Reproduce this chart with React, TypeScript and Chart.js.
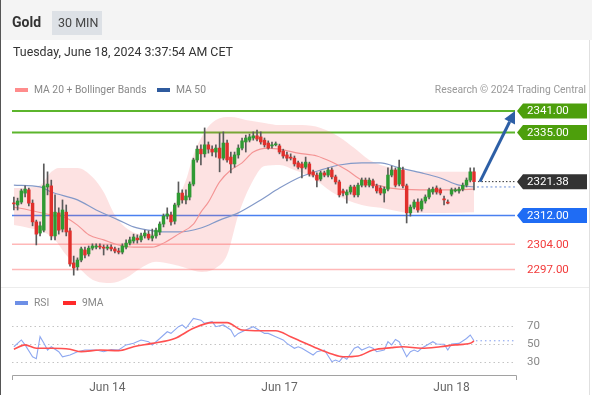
import { useEffect, useRef } from 'react';
import { Chart, registerables } from 'chart.js';

Chart.register(...registerables);

const W = 592;
const H = 395;
const FONT = 'Roboto, "Liberation Sans", Arial, sans-serif';

// ---- data ----
const openP = [
  2315.4, 2314.9, 2315.7, 2318.2, 2319.1, 2315.4, 2310.2, 2307.1, 2307.9, 2319.9,
  2320.2, 2306.3, 2312.7, 2308.2, 2312.9, 2307.7, 2298.8, 2297.7, 2299.6, 2302.4,
  2301.3, 2302.9, 2303.2, 2303.5, 2303.2, 2302.9, 2303.2, 2302.7, 2302.1, 2301.8,
  2303.2, 2304.3, 2304.9, 2305.7, 2305.2, 2306.3, 2306.8, 2305.7, 2306.3, 2307.4,
  2309.6, 2311.8, 2312.1, 2310.4, 2314.9, 2318.2, 2316.3, 2317.1, 2320.7, 2327.4,
  2330.4, 2329.1, 2331.6, 2330.4, 2329.6, 2330.7, 2327.9, 2332.1, 2328.2, 2326.3,
  2328.8, 2330.7, 2332.4, 2332.9, 2333.5, 2334.1, 2333.8, 2332.9, 2332.1, 2331.3,
  2331.6, 2331.3, 2329.9, 2328.8, 2328.2, 2327.9, 2326.6, 2326.3, 2325.4, 2326.3,
  2324.1, 2323.2, 2322.1, 2323.8, 2323.2, 2324.6, 2322.7, 2321.3, 2318.8, 2317.7,
  2318.5, 2319.9, 2317.7, 2320.4, 2321.8, 2320.4, 2321.6, 2320.2, 2319.6, 2318.2,
  2319.3, 2323.2, 2324.6, 2320.7, 2324.6, 2320.2, 2312.7, 2314.3, 2315.7, 2313.8,
  2316.0, 2317.1, 2318.5, 2319.6, 2319.1, 2316.6, 2315.7, 2317.9, 2318.8, 2318.8,
  2319.3, 2320.4, 2321.8, 2324.1,
];
const closeP = [
  2315.2, 2316.0, 2318.8, 2319.3, 2315.4, 2310.2, 2306.8, 2309.1, 2320.2, 2320.7,
  2306.3, 2312.9, 2307.9, 2313.5, 2307.4, 2298.5, 2297.4, 2299.6, 2302.7, 2301.0,
  2302.9, 2303.5, 2303.5, 2303.2, 2302.9, 2303.2, 2302.7, 2302.1, 2301.8, 2303.5,
  2304.3, 2305.2, 2306.0, 2305.2, 2306.3, 2307.1, 2305.7, 2306.3, 2307.9, 2309.6,
  2311.8, 2312.4, 2310.2, 2314.9, 2318.2, 2316.3, 2317.4, 2320.7, 2327.4, 2330.4,
  2329.1, 2331.6, 2330.4, 2329.6, 2330.7, 2327.9, 2332.1, 2327.4, 2326.3, 2328.8,
  2330.7, 2332.7, 2333.5, 2333.8, 2334.1, 2333.2, 2332.4, 2331.6, 2330.7, 2331.6,
  2331.8, 2329.6, 2328.5, 2327.9, 2327.9, 2326.3, 2325.4, 2325.2, 2326.8, 2323.5,
  2323.2, 2321.8, 2323.8, 2323.2, 2324.6, 2322.7, 2321.3, 2317.7, 2318.2, 2318.5,
  2319.9, 2317.7, 2320.4, 2321.8, 2320.4, 2321.8, 2320.2, 2318.8, 2318.2, 2319.3,
  2323.2, 2324.6, 2320.4, 2325.2, 2320.2, 2312.7, 2314.3, 2315.7, 2313.5, 2316.0,
  2317.1, 2319.1, 2319.3, 2318.5, 2318.2, 2316.3, 2315.4, 2319.1, 2319.1, 2319.3,
  2320.4, 2321.8, 2324.1, 2321.38,
];
const highP = [
  2317.1, 2316.8, 2319.3, 2320.2, 2319.6, 2316.3, 2310.7, 2310.2, 2326.3, 2324.1,
  2321.8, 2317.7, 2314.1, 2316.3, 2314.9, 2308.5, 2300.7, 2300.2, 2303.2, 2303.2,
  2303.5, 2304.1, 2304.1, 2304.1, 2303.8, 2303.8, 2303.8, 2303.2, 2302.9, 2304.1,
  2305.2, 2306.0, 2306.8, 2306.6, 2307.1, 2307.9, 2307.7, 2308.2, 2308.5, 2310.2,
  2312.4, 2314.1, 2312.9, 2315.4, 2321.3, 2319.1, 2319.1, 2321.3, 2327.9, 2331.3,
  2331.6, 2336.3, 2332.4, 2331.3, 2331.6, 2334.9, 2335.2, 2332.9, 2329.6, 2329.6,
  2331.6, 2333.5, 2334.3, 2334.6, 2335.2, 2335.7, 2335.2, 2333.5, 2332.7, 2332.4,
  2332.4, 2331.8, 2330.4, 2329.6, 2329.1, 2328.5, 2327.1, 2326.8, 2328.2, 2326.8,
  2324.6, 2323.8, 2324.3, 2324.3, 2325.2, 2325.2, 2323.2, 2321.8, 2319.3, 2319.1,
  2320.4, 2320.4, 2321.0, 2322.4, 2322.4, 2322.4, 2322.1, 2320.7, 2320.2, 2319.9,
  2325.2, 2325.7, 2325.2, 2327.4, 2325.4, 2320.7, 2314.9, 2316.3, 2316.6, 2316.6,
  2317.7, 2319.6, 2319.9, 2320.2, 2319.6, 2317.4, 2316.3, 2319.6, 2319.6, 2319.9,
  2321.0, 2322.4, 2325.2, 2325.2,
];
const lowP = [
  2313.5, 2313.5, 2315.2, 2317.1, 2314.6, 2309.1, 2303.8, 2306.3, 2307.4, 2317.7,
  2305.2, 2305.2, 2306.8, 2307.4, 2306.3, 2297.9, 2295.4, 2296.8, 2299.1, 2300.2,
  2300.7, 2302.4, 2302.7, 2302.7, 2301.0, 2302.4, 2302.1, 2301.6, 2301.3, 2301.3,
  2302.7, 2303.8, 2304.3, 2304.3, 2304.6, 2305.7, 2305.2, 2304.9, 2305.7, 2306.6,
  2308.8, 2311.0, 2309.3, 2309.6, 2314.3, 2315.4, 2315.2, 2316.3, 2320.2, 2326.8,
  2326.0, 2328.2, 2329.3, 2328.5, 2328.2, 2324.1, 2327.4, 2326.8, 2323.8, 2325.4,
  2327.9, 2330.2, 2329.6, 2332.4, 2332.9, 2332.7, 2331.8, 2331.0, 2330.4, 2330.7,
  2331.3, 2329.1, 2327.9, 2327.1, 2327.4, 2325.7, 2324.9, 2322.4, 2324.9, 2322.9,
  2322.7, 2319.9, 2321.6, 2322.7, 2322.7, 2322.1, 2320.7, 2317.1, 2317.4, 2315.4,
  2317.9, 2317.1, 2317.1, 2319.9, 2319.9, 2319.9, 2319.6, 2318.2, 2317.7, 2315.7,
  2318.8, 2322.7, 2319.9, 2320.2, 2319.6, 2309.9, 2311.8, 2313.8, 2312.9, 2313.2,
  2315.4, 2316.6, 2317.9, 2317.9, 2317.7, 2314.9, 2315.2, 2317.4, 2318.5, 2318.2,
  2318.8, 2319.9, 2321.3, 2319.1,
];

// [candle index, value]
const ma20: [number, number][] = [
  [0, 2314.3], [4, 2313.5], [10, 2312.1], [14, 2311.3], [17, 2309.3], [20, 2306.6],
  [24, 2305.2], [28, 2303.8], [32, 2303.2], [37, 2303.2], [40, 2304.3], [44, 2306.8],
  [48, 2309.6], [50, 2312.9], [52, 2315.7], [55, 2321.3], [58, 2324.6], [61, 2326.6],
  [64, 2329.6], [68, 2330.7], [72, 2330.2], [76, 2329.3], [81, 2328.5], [85, 2326.8],
  [89, 2324.6], [93, 2321.8], [98, 2320.2], [103, 2319.3], [111, 2319.1], [119, 2319.1],
  [123, 2319.3],
];
const ma50: [number, number][] = [
  [0, 2320.4], [7, 2319.9], [10, 2318.5], [17, 2316.3], [22, 2313.5], [28, 2310.7],
  [32, 2308.8], [36, 2307.9], [40, 2307.4], [44, 2307.4], [50, 2308.5], [55, 2310.7],
  [60, 2312.7], [66, 2316.3], [71, 2319.6], [76, 2322.4], [82, 2324.6], [87, 2326.0],
  [93, 2326.6], [98, 2326.6], [103, 2325.2], [109, 2323.8], [114, 2322.4], [119, 2320.4],
  [123, 2319.9],
];
const bbUpper: [number, number][] = [
  [0, 2319.6], [7, 2320.4], [10, 2324.1], [12, 2325.2], [17, 2325.2], [21, 2322.7],
  [24, 2318.5], [27, 2312.1], [30, 2308.5], [34, 2306.8], [38, 2306.8], [40, 2309.3],
  [43, 2314.9], [46, 2321.8], [48, 2328.8], [51, 2335.2], [54, 2338.5], [58, 2339.3],
  [62, 2338.5], [67, 2337.7], [71, 2337.1], [77, 2337.1], [82, 2336.3], [87, 2333.8],
  [91, 2330.7], [95, 2327.4], [101, 2325.2], [110, 2324.1], [123, 2324.1],
];
const bbLower: [number, number][] = [
  [0, 2309.3], [4, 2308.5], [8, 2307.4], [11, 2305.2], [14, 2301.0], [18, 2296.8],
  [21, 2294.1], [26, 2293.2], [30, 2294.6], [34, 2297.4], [38, 2299.1], [42, 2298.5],
  [46, 2297.4], [50, 2296.3], [54, 2297.4], [57, 2301.0], [60, 2312.1], [64, 2321.8],
  [67, 2325.7], [71, 2326.0], [75, 2324.6], [80, 2322.4], [85, 2318.5], [89, 2316.3],
  [93, 2314.9], [98, 2314.1], [106, 2312.7], [115, 2312.7], [123, 2312.9],
];
const rsi: [number, number][] = [
  [0, 47], [2, 54.4], [3, 49], [5, 36], [6, 34], [7, 58], [8, 51], [9, 43.4], [10, 47],
  [12, 41.6], [13, 36], [15, 38], [17, 41.6], [19, 43.4], [22, 43.4], [24, 41.6], [26, 44],
  [28, 43.4], [30, 49], [32, 50.7], [34, 54.4], [36, 52.5], [37, 49], [39, 56], [41, 63.4],
  [42, 61.6], [44, 68.9], [45, 70.8], [46, 67.2], [48, 78], [50, 76], [51, 72.6], [53, 74.4],
  [54, 68.9], [56, 70.8], [58, 65.3], [59, 58], [60, 61.6], [62, 65.3], [64, 68.9], [67, 61.6],
  [68, 61.6], [70, 58], [72, 54.4], [73, 50.7], [75, 45.3], [76, 47], [77, 45.3], [80, 38],
  [81, 41.6], [83, 43.4], [85, 30.7], [86, 32.5], [87, 30.7], [88, 36], [89, 33.2], [91, 45.3],
  [92, 47], [93, 43.4], [95, 47], [96, 45.3], [97, 41.6], [99, 43.4], [100, 52.5], [101, 49],
  [102, 55], [103, 52.5], [105, 36], [106, 41.6], [107, 43.4], [108, 41.6], [109, 45.3],
  [112, 52.5], [113, 50], [115, 49.7], [116, 43.4], [117, 50], [119, 50.7], [121, 56],
  [122, 59.8], [123, 53.5],
];
const rsiMa: [number, number][] = [
  [0, 44.2], [3, 49], [6, 45.3], [10, 45.3], [15, 44.2], [18, 41.6], [23, 43.4], [28, 42.7],
  [32, 47], [37, 50.7], [43, 56], [48, 67.2], [53, 73.3], [57, 73.3], [61, 65.3], [66, 64.5],
  [70, 64.5], [74, 58], [77, 52.5], [81, 45.3], [85, 39], [88, 36], [92, 36.9], [96, 43.4],
  [101, 46], [104, 47], [109, 45.3], [114, 47], [118, 49], [122, 50.7], [123, 53.3],
];

const tickIndex = [25, 71, 117];
const tickLabels = ['Jun 14', 'Jun 17', 'Jun 18'];
const rsiLevels = [70, 50, 30];
const levelValues = [2341, 2335, 2312, 2304, 2297];
const targetLevel = 2341;

// ---- styles ----
const levelLine = ['#5cb52c', '#5cb52c', '#4a80f0', '#ffb8b8', '#ffb8b8'];
const levelWidth = [2, 2, 1.5, 1.5, 1.5];
const levelBox = ['#4d9f0c', '#4d9f0c', '#1f6cf4', '', ''];
const levelText = ['#ffffff', '#ffffff', '#ffffff', '#f23a3a', '#f23a3a'];

const f = (s: number, w = '') => `${w} ${s}px ${FONT}`.trim();

const overlay = {
  id: 'overlay',
  beforeDraw(chart: any) {
    const ctx = chart.ctx;
    ctx.save();
    ctx.fillStyle = '#ffffff';
    ctx.fillRect(0, 0, W, H);
    ctx.fillStyle = '#f4f4f4';
    ctx.fillRect(0, 0, W, 40);
    ctx.restore();
  },
  beforeDatasetsDraw(chart: any) {
    const { ctx, chartArea: ca, scales } = chart;
    const ys = scales.y;
    const yr = scales.yr;
    const lineEnd = ca.right - 2;
    ctx.save();
    levelValues.forEach((v, k) => {
      const py = ys.getPixelForValue(v);
      ctx.strokeStyle = levelLine[k];
      ctx.lineWidth = levelWidth[k];
      ctx.beginPath();
      ctx.moveTo(ca.left, py);
      ctx.lineTo(lineEnd, py);
      ctx.stroke();
    });
    ctx.setLineDash([1.5, 3]);
    ctx.strokeStyle = '#c4c4c4';
    ctx.lineWidth = 1;
    rsiLevels.forEach((v) => {
      const py = Math.round(yr.getPixelForValue(v)) + 0.5;
      ctx.beginPath();
      ctx.moveTo(ca.left, py);
      ctx.lineTo(lineEnd, py);
      ctx.stroke();
    });
    ctx.restore();
  },
  afterDraw(chart: any) {
    const { ctx, chartArea: ca, scales } = chart;
    const xs = scales.x;
    const ys = scales.y;
    const yr = scales.yr;
    const lineEnd = ca.right - 2;
    const last = closeP.length - 1;
    const lastX = xs.getPixelForValue(last);
    ctx.save();

    // x axis
    ctx.strokeStyle = '#a2a2a2';
    ctx.lineWidth = 1;
    ctx.beginPath();
    ctx.moveTo(ca.left + 0.5, ca.bottom + 5);
    ctx.lineTo(ca.left + 0.5, ca.bottom + 0.5);
    ctx.lineTo(ca.right - 0.5, ca.bottom + 0.5);
    ctx.lineTo(ca.right - 0.5, ca.bottom + 5);
    ctx.stroke();
    ctx.fillStyle = '#666';
    ctx.font = f(12);
    ctx.textAlign = 'center';
    ctx.textBaseline = 'middle';
    tickIndex.forEach((t, k) => ctx.fillText(tickLabels[k], xs.getPixelForValue(t), ca.bottom + 13));

    // rsi labels
    ctx.textAlign = 'left';
    ctx.fillStyle = '#888';
    ctx.font = f(11.5);
    rsiLevels.forEach((v) => ctx.fillText(String(v), ca.right + 10, yr.getPixelForValue(v)));

    // rsi dotted extension
    const lastRsi = rsi[rsi.length - 1];
    ctx.setLineDash([1.5, 3]);
    ctx.strokeStyle = '#7f9cf0';
    ctx.beginPath();
    ctx.moveTo(xs.getPixelForValue(lastRsi[0]) + 2, yr.getPixelForValue(lastRsi[1]));
    ctx.lineTo(lineEnd, yr.getPixelForValue(lastRsi[1]));
    ctx.stroke();

    // price dotted lines
    const lastMa50 = ma50[ma50.length - 1];
    ctx.strokeStyle = '#6d8fd6';
    ctx.setLineDash([2, 2.5]);
    ctx.beginPath();
    ctx.moveTo(xs.getPixelForValue(lastMa50[0]) + 3, ys.getPixelForValue(lastMa50[1]));
    ctx.lineTo(lineEnd, ys.getPixelForValue(lastMa50[1]));
    ctx.stroke();
    ctx.strokeStyle = '#333';
    ctx.setLineDash([1.5, 2]);
    ctx.beginPath();
    ctx.moveTo(lastX + 4, ys.getPixelForValue(closeP[last]));
    ctx.lineTo(lineEnd, ys.getPixelForValue(closeP[last]));
    ctx.stroke();
    ctx.setLineDash([]);

    // arrow
    const x0 = lastX + 6;
    const y0 = ys.getPixelForValue(closeP[last]);
    const x1 = lineEnd;
    const y1 = ys.getPixelForValue(targetLevel);
    const ang = Math.atan2(y1 - y0, x1 - x0);
    const hl = 12;
    const hw = 6;
    const bx = x1 - hl * Math.cos(ang);
    const by = y1 - hl * Math.sin(ang);
    ctx.strokeStyle = '#2d5fa6';
    ctx.fillStyle = '#2d5fa6';
    ctx.lineWidth = 3;
    ctx.beginPath();
    ctx.moveTo(x0, y0);
    ctx.lineTo(bx, by);
    ctx.stroke();
    ctx.beginPath();
    ctx.moveTo(x1, y1);
    ctx.lineTo(bx + hw * Math.sin(ang), by - hw * Math.cos(ang));
    ctx.lineTo(bx - hw * Math.sin(ang), by + hw * Math.cos(ang));
    ctx.closePath();
    ctx.fill();

    // labels
    const tip = ca.right;
    const right = 587;
    const half = 7.5;
    const drawBox = (v: number, bg: string, fg: string) => {
      const py = ys.getPixelForValue(v);
      if (bg) {
        ctx.fillStyle = bg;
        ctx.beginPath();
        ctx.moveTo(tip, py);
        ctx.lineTo(tip + 6, py - half);
        ctx.lineTo(right, py - half);
        ctx.lineTo(right, py + half);
        ctx.lineTo(tip + 6, py + half);
        ctx.closePath();
        ctx.fill();
      }
      ctx.fillStyle = fg;
      ctx.font = f(11.5);
      ctx.textAlign = 'left';
      ctx.textBaseline = 'middle';
      ctx.fillText(v.toFixed(2), tip + 10, py + 0.5);
    };
    levelValues.forEach((v, k) => drawBox(v, levelBox[k], levelText[k]));
    drawBox(closeP[last], '#333333', '#ffffff');

    // header
    ctx.textBaseline = 'middle';
    ctx.textAlign = 'left';
    ctx.fillStyle = '#333';
    ctx.font = f(14, 'bold');
    ctx.fillText('Gold', 12, 23);
    ctx.fillStyle = '#dde1e6';
    ctx.fillRect(52, 11, 50, 24);
    ctx.fillStyle = '#444';
    ctx.font = f(12.5);
    ctx.fillText('30 MIN', 58, 23.5);
    ctx.fillStyle = '#333';
    ctx.font = f(12.4);
    ctx.fillText('Tuesday, June 18, 2024 3:37:54 AM CET', 13, 53);

    // legends
    ctx.font = f(10.3);
    ctx.fillStyle = '#ff8c8c';
    ctx.fillRect(15, 88, 13, 4);
    ctx.fillStyle = '#2f5b9e';
    ctx.fillRect(157, 88, 13, 4);
    ctx.fillStyle = '#888';
    ctx.fillText('MA 20 + Bollinger Bands', 34, 90.5);
    ctx.fillText('MA 50', 176, 90.5);
    ctx.textAlign = 'right';
    ctx.fillStyle = '#999';
    ctx.fillText('Research \u00a9 2024 Trading Central', 586, 90.5);
    ctx.textAlign = 'left';
    ctx.fillStyle = '#6d8fe6';
    ctx.fillRect(15, 301, 13, 4);
    ctx.fillStyle = '#ff2a2a';
    ctx.fillRect(63, 301, 13, 4);
    ctx.fillStyle = '#888';
    ctx.fillText('RSI', 34, 303.5);
    ctx.fillText('9MA', 82, 303.5);

    // frame
    ctx.lineWidth = 1;
    ctx.strokeStyle = '#ececec';
    ctx.beginPath();
    ctx.moveTo(1, 287.5);
    ctx.lineTo(589, 287.5);
    ctx.stroke();
    ctx.strokeStyle = '#e0e0e0';
    ctx.beginPath();
    ctx.moveTo(589.5, 40);
    ctx.lineTo(589.5, H);
    ctx.stroke();
    ctx.strokeStyle = '#555';
    ctx.beginPath();
    ctx.moveTo(0.5, 0);
    ctx.lineTo(0.5, H);
    ctx.stroke();
    ctx.restore();
  },
};

const pts = (a: [number, number][]) => a.map(([x, y]) => ({ x, y }));

export default function App() {
  const ref = useRef<HTMLCanvasElement | null>(null);
  useEffect(() => {
    if (!ref.current) return;
    const wickData = highP.map((h, i) => ({ x: i, y: [lowP[i], h] }));
    const bodyData = openP.map((o, i) => ({ x: i, y: [o, closeP[i]] }));
    const bodyColors = openP.map((o, i) => (closeP[i] >= o ? '#2f9a33' : '#e0302c'));
    const chart = new Chart(ref.current, {
      type: 'line',
      data: {
        datasets: [
          {
            type: 'line', data: pts(bbUpper), yAxisID: 'y', borderWidth: 0, borderColor: 'rgba(0,0,0,0)',
            pointRadius: 0, fill: false, cubicInterpolationMode: 'monotone', order: 10,
          },
          {
            type: 'line', data: pts(bbLower), yAxisID: 'y', borderWidth: 0, borderColor: 'rgba(0,0,0,0)',
            pointRadius: 0, fill: '-1', backgroundColor: 'rgba(245,100,100,0.19)',
            cubicInterpolationMode: 'monotone', order: 9,
          },
          {
            type: 'line', data: pts(ma50), yAxisID: 'y', borderColor: '#8399c8', borderWidth: 1.2,
            pointRadius: 0, fill: false, cubicInterpolationMode: 'monotone', order: 8,
          },
          {
            type: 'line', data: pts(ma20), yAxisID: 'y', borderColor: '#f49494', borderWidth: 1.1,
            pointRadius: 0, fill: false, cubicInterpolationMode: 'monotone', order: 7,
          },
          {
            type: 'bar', data: wickData as any, yAxisID: 'y', backgroundColor: '#5a5a5a',
            barThickness: 1, grouped: false, order: 5,
          },
          {
            type: 'bar', data: bodyData as any, yAxisID: 'y', backgroundColor: bodyColors,
            barThickness: 2.8, grouped: false, minBarLength: 1, order: 4,
          },
          {
            type: 'line', data: pts(rsi), yAxisID: 'yr', borderColor: '#8ea8f0', borderWidth: 1.1,
            pointRadius: 0, fill: false, tension: 0, order: 2,
          },
          {
            type: 'line', data: pts(rsiMa), yAxisID: 'yr', borderColor: '#ff5050', borderWidth: 1.6,
            pointRadius: 0, fill: false, cubicInterpolationMode: 'monotone', order: 1,
          },
        ] as any,
      },
      options: {
        responsive: false,
        maintainAspectRatio: false,
        animation: false,
        devicePixelRatio: 1,
        layout: { padding: { left: 12, right: 75, top: 100, bottom: 20 } },
        plugins: { legend: { display: false }, tooltip: { enabled: false } },
        scales: {
          x: { type: 'linear', display: false, min: -0.5, max: 134.5, offset: false },
          y: { type: 'linear', display: false, min: 2267.667, max: 2344.056 },
          yr: { type: 'linear', display: false, min: 16.1, max: 316.7 },
        },
      } as any,
      plugins: [overlay],
    });
    return () => chart.destroy();
  }, []);
  return (
    <canvas
      ref={ref}
      width={W}
      height={H}
      style={{ position: 'absolute', left: 0, top: 0, width: W, height: H }}
    />
  );
}
